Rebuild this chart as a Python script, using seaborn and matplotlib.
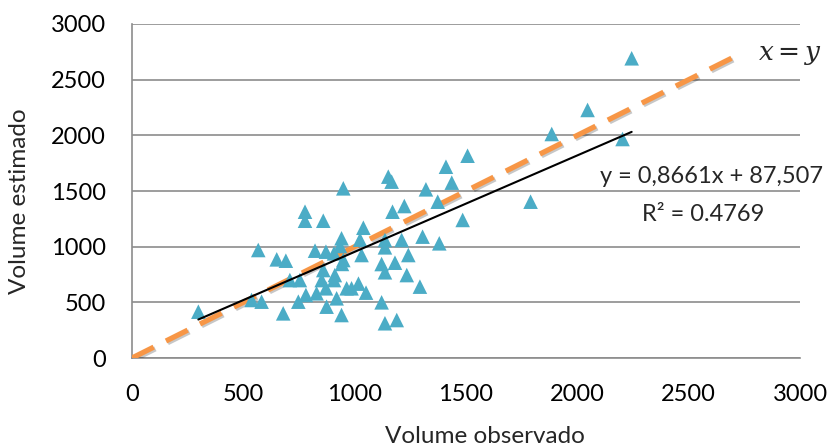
import numpy as np
import matplotlib
matplotlib.use("Agg")
import matplotlib.pyplot as plt
import matplotlib.patheffects as pe
import seaborn as sns
import pandas as pd

observado = [298, 567, 537, 582, 650, 691, 679, 709, 754, 747, 781, 777, 777, 829,
             822, 859, 859, 852, 871, 871, 874, 907, 907, 911, 919, 934, 941, 941,
             949, 949, 943, 964, 986, 1017, 1024, 1031, 1039, 1051, 1121, 1121, 1136,
             1136, 1136, 1136, 1151, 1166, 1170, 1181, 1189, 1211, 1223, 1234, 1241,
             1293, 1305, 1320, 1373, 1380, 1410, 1436, 1485, 1507, 1790, 1885, 2046,
             2203, 2244]
estimado = [416, 970, 521, 506, 886, 874, 401, 700, 700, 506, 566, 1314, 1233, 581,
            964, 1233, 790, 700, 955, 626, 461, 940, 700, 745, 536, 1006, 1075, 386,
            880, 1524, 845, 626, 626, 668, 1063, 925, 1170, 587, 844, 500, 1060,
            994, 770, 312, 1629, 1584, 1314, 856, 341, 1060, 1365, 745, 925,
            641, 1090, 1515, 1404, 1030, 1718, 1575, 1240, 1817, 1404, 2012, 2228,
            1967, 2692]

# trend line coefficients shown on the chart
slope = 0.8661
intercept = 87.507
identity_end = 2700

df = pd.DataFrame({"obs": observado, "est": estimado})

sns.set_style("white")
plt.rcParams['font.family'] = ['Lato', 'DejaVu Sans']

fig = plt.figure(figsize=(8.3, 4.48), dpi=100)
ax = fig.add_axes([132 / 830, 1 - 358 / 448, (800 - 132) / 830, (358 - 24) / 448])

ax.grid(axis="y", color="#8c8c8c", linewidth=1.2)
ax.set_axisbelow(True)

# x = y line
ident = np.array([0, identity_end])
ax.plot(ident, ident, color="#F79646", linewidth=3.8, dashes=(4.6, 2.6),
        solid_capstyle="butt", zorder=3,
        path_effects=[pe.SimpleLineShadow(offset=(1.2, -1.2), alpha=0.22), pe.Normal()])

sns.scatterplot(data=df, x="obs", y="est", marker="^", s=110, color="#4BACC6",
                edgecolor="none", ax=ax, zorder=4)

# fitted trend line
fx = np.array([min(observado), max(observado)])
ax.plot(fx, slope * fx + intercept, color="black", linewidth=1.5, zorder=5)

ax.set_xlim(0, 3000)
ax.set_ylim(0, 3000)
ax.set_xticks(range(0, 3001, 500))
ax.set_yticks(range(0, 3001, 500))
ax.tick_params(axis="both", labelsize=17, colors="black", length=6, width=1.2,
               color="#8c8c8c", direction="out")
ax.tick_params(axis="x", pad=13)
ax.tick_params(axis="y", pad=13)
for side in ["top", "right"]:
    ax.spines[side].set_visible(False)
for side in ["left", "bottom"]:
    ax.spines[side].set_color("#8c8c8c")
    ax.spines[side].set_linewidth(1.2)

ax.set_xlabel("Volume observado", fontsize=17.5)
ax.set_ylabel("Volume estimado", fontsize=17.5)
ax.xaxis.set_label_coords(0.528, -0.205)
ax.yaxis.set_label_coords(-0.152, 0.47)

ax.text(2604, 1626, "y = 0,8661x + 87,507", fontsize=17, ha="center", va="center")
ax.text(2564, 1293, "R² = 0.4769", fontsize=17, ha="center", va="center")
ax.text(2955, 2722, "$x = y$", fontsize=19, ha="center", va="center",
        math_fontfamily="dejavuserif", clip_on=False)

fig.savefig("out.png", dpi=100)
